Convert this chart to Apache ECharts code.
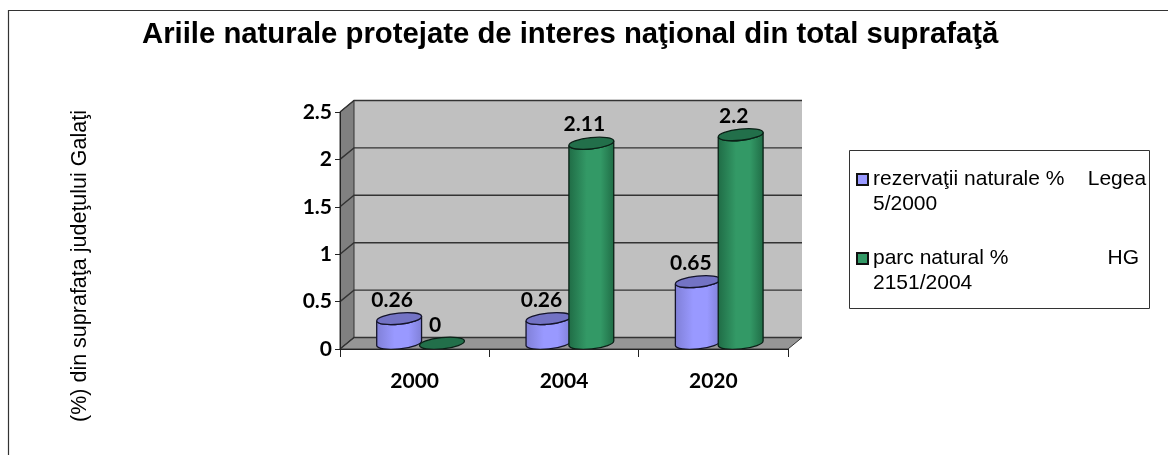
<!DOCTYPE html>
<html><head><meta charset="utf-8">
<style>html,body{margin:0;padding:0;background:#fff}#c{width:1168px;height:455px}</style>
<script src="https://cdn.jsdelivr.net/npm/echarts@6/dist/echarts.min.js"></script>
</head><body><div id="c"></div>
<script>
const titleText = 'Ariile naturale protejate de interes naţional din total suprafaţă';
const yAxisTitle = '(%) din suprafaţa judeţului Galaţi';
const categories = ['2000', '2004', '2020'];
const yTicks = [0, 0.5, 1, 1.5, 2, 2.5];
const reserveName = 'rezervaţii naturale %    Legea 5/2000';
const parkName = 'parc natural %                 HG 2151/2004';
const reserveValues = [0.26, 0.26, 0.65];
const parkValues = [0, 2.11, 2.2];

const DEPTH_X = 14, DEPTH_Y = 11.5;
const chart = echarts.init(document.getElementById('c'), null, {renderer: 'canvas'});

function renderWalls(params, api) {
  const cs = params.coordSys;
  const v = api.value(1);
  const y = api.coord([0, v])[1];
  const L = cs.x, R = cs.x + cs.width, T = cs.y, B = cs.y + cs.height;
  const kids = [];
  if (params.dataIndex === 0) {
    kids.push({type: 'polygon', shape: {points: [[L + DEPTH_X, T - DEPTH_Y], [R + DEPTH_X, T - DEPTH_Y], [R + DEPTH_X, B - DEPTH_Y], [L + DEPTH_X, B - DEPTH_Y]]}, style: {fill: '#c0c0c0'}});
    kids.push({type: 'polygon', shape: {points: [[L, T], [L + DEPTH_X, T - DEPTH_Y], [L + DEPTH_X, B - DEPTH_Y], [L, B]]}, style: {fill: '#808080', stroke: '#333', lineWidth: 1}});
    kids.push({type: 'polygon', shape: {points: [[L, B], [L + DEPTH_X, B - DEPTH_Y], [R + DEPTH_X, B - DEPTH_Y], [R, B]]}, style: {fill: '#969696', stroke: '#333', lineWidth: 1}});
  }
  kids.push({type: 'polyline', shape: {points: [[L, y], [L + DEPTH_X, y - DEPTH_Y], [R + DEPTH_X, y - DEPTH_Y]]}, style: {fill: 'none', stroke: '#333', lineWidth: 1.4}});
  return {type: 'group', children: kids};
}

function cylinder(offsetRatio, edge, mid, topFill, line) {
  return function (params, api) {
    const i = api.value(0), v = api.value(1);
    const top = api.coord([i, v]), base = api.coord([i, 0]);
    const band = api.size([1, 0])[0];
    const rx = band * 0.151, ry = 5.6, tilt = 6 * Math.PI / 180;
    const cx = top[0] + band * offsetRatio;
    const yT = top[1] - DEPTH_Y / 2, yB = base[1] - DEPTH_Y / 2;
    const ex = rx * Math.cos(tilt), ey = rx * Math.sin(tilt);
    const rot = -6;
    const ell = `M${cx - ex} ${yT + ey}A${rx} ${ry} ${rot} 1 1 ${cx + ex} ${yT - ey}A${rx} ${ry} ${rot} 1 1 ${cx - ex} ${yT + ey}Z`;
    const body = `M${cx - ex} ${yT + ey}L${cx - ex} ${yB + ey}A${rx} ${ry} ${rot} 0 0 ${cx + ex} ${yB - ey}L${cx + ex} ${yT - ey}A${rx} ${ry} ${rot} 0 1 ${cx - ex} ${yT + ey}Z`;
    const kids = [];
    if (v > 0) {
      kids.push({type: 'path', shape: {pathData: body},
        style: {stroke: line, lineWidth: 1.3, fill: {type: 'linear', x: 0, y: 0, x2: 1, y2: 0, colorStops: [
          {offset: 0, color: edge}, {offset: 0.4, color: mid}, {offset: 0.7, color: mid}, {offset: 1, color: edge}]}}});
    }
    kids.push({type: 'path', shape: {pathData: ell}, style: {fill: topFill, stroke: line, lineWidth: 1.3}});
    kids.push({type: 'text', x: cx - 7, y: yT - 18.5, style: {text: String(v), font: 'bold 21px Lato', fill: '#000', textAlign: 'center', textVerticalAlign: 'middle'}});
    return {type: 'group', children: kids};
  };
}

chart.setOption({
  animation: false,
  backgroundColor: '#fff',
  title: {text: titleText, left: 142, top: 20, padding: 0, textStyle: {fontFamily: 'Liberation Sans', fontWeight: 'bold', fontSize: 29.3, color: '#000'}},
  grid: {left: 340, right: 380, top: 112, bottom: 106, containLabel: false},
  legend: {
    orient: 'vertical', left: 856, top: 142, padding: 0, itemWidth: 11, itemHeight: 11, itemGap: 4,
    icon: 'rect', selectedMode: false,
    data: [reserveName, parkName],
    itemStyle: {borderColor: '#111', borderWidth: 2},
    formatter: n => '\n' + n.replace(/ (\S+)$/, '\n$1'),
    textStyle: {fontFamily: 'Liberation Sans', fontSize: 21, lineHeight: 25, color: '#000'}
  },
  xAxis: {type: 'category', data: categories, boundaryGap: true, z: 3,
    axisLine: {lineStyle: {color: '#222', width: 1}},
    axisTick: {show: true, alignWithLabel: false, length: 8, lineStyle: {color: '#222'}},
    axisLabel: {margin: 22, fontFamily: 'Lato', fontWeight: 'bold', fontSize: 21, color: '#000', interval: 0}},
  yAxis: {type: 'value', min: 0, max: 2.5, interval: 0.5, z: 3,
    axisLine: {show: true, lineStyle: {color: '#222', width: 1}},
    axisTick: {show: true, length: 5, lineStyle: {color: '#222'}},
    splitLine: {show: false},
    axisLabel: {margin: 8, padding: [3, 0, 0, 0], fontFamily: 'Lato', fontWeight: 'bold', fontSize: 21, color: '#000', formatter: v => String(v)}},
  graphic: [
    {type: 'polyline', shape: {points: [[8.5, 455], [8.5, 10.5], [1168, 10.5]]}, style: {fill: 'none', stroke: '#333', lineWidth: 1.2}},
    {type: 'rect', shape: {x: 849.5, y: 150.5, width: 300, height: 158}, style: {fill: 'none', stroke: '#333', lineWidth: 1}},
    {type: 'text', x: 80, y: 266, rotation: Math.PI / 2, style: {text: yAxisTitle, font: '21.5px "Liberation Sans"', fill: '#000', textAlign: 'center', textVerticalAlign: 'middle'}}
  ],
  series: [
    {type: 'custom', name: 'walls', z: 1, silent: true, clip: false, renderItem: renderWalls, encode: {x: 0, y: 1},
      data: yTicks.map(t => [0, t])},
    {type: 'custom', name: reserveName, z: 2, clip: false, renderItem: cylinder(-0.104, '#7f7fd6', '#9999ff', '#7373c4', '#14142a'),
      itemStyle: {color: '#9999ff'}, encode: {x: 0, y: 1}, data: reserveValues.map((v, i) => [i, v])},
    {type: 'custom', name: parkName, z: 2, clip: false, renderItem: cylinder(0.183, '#1f6b45', '#339966', '#226f4a', '#0a2016'),
      itemStyle: {color: '#339966'}, encode: {x: 0, y: 1}, data: parkValues.map((v, i) => [i, v])}
  ]
});
</script></body></html>
